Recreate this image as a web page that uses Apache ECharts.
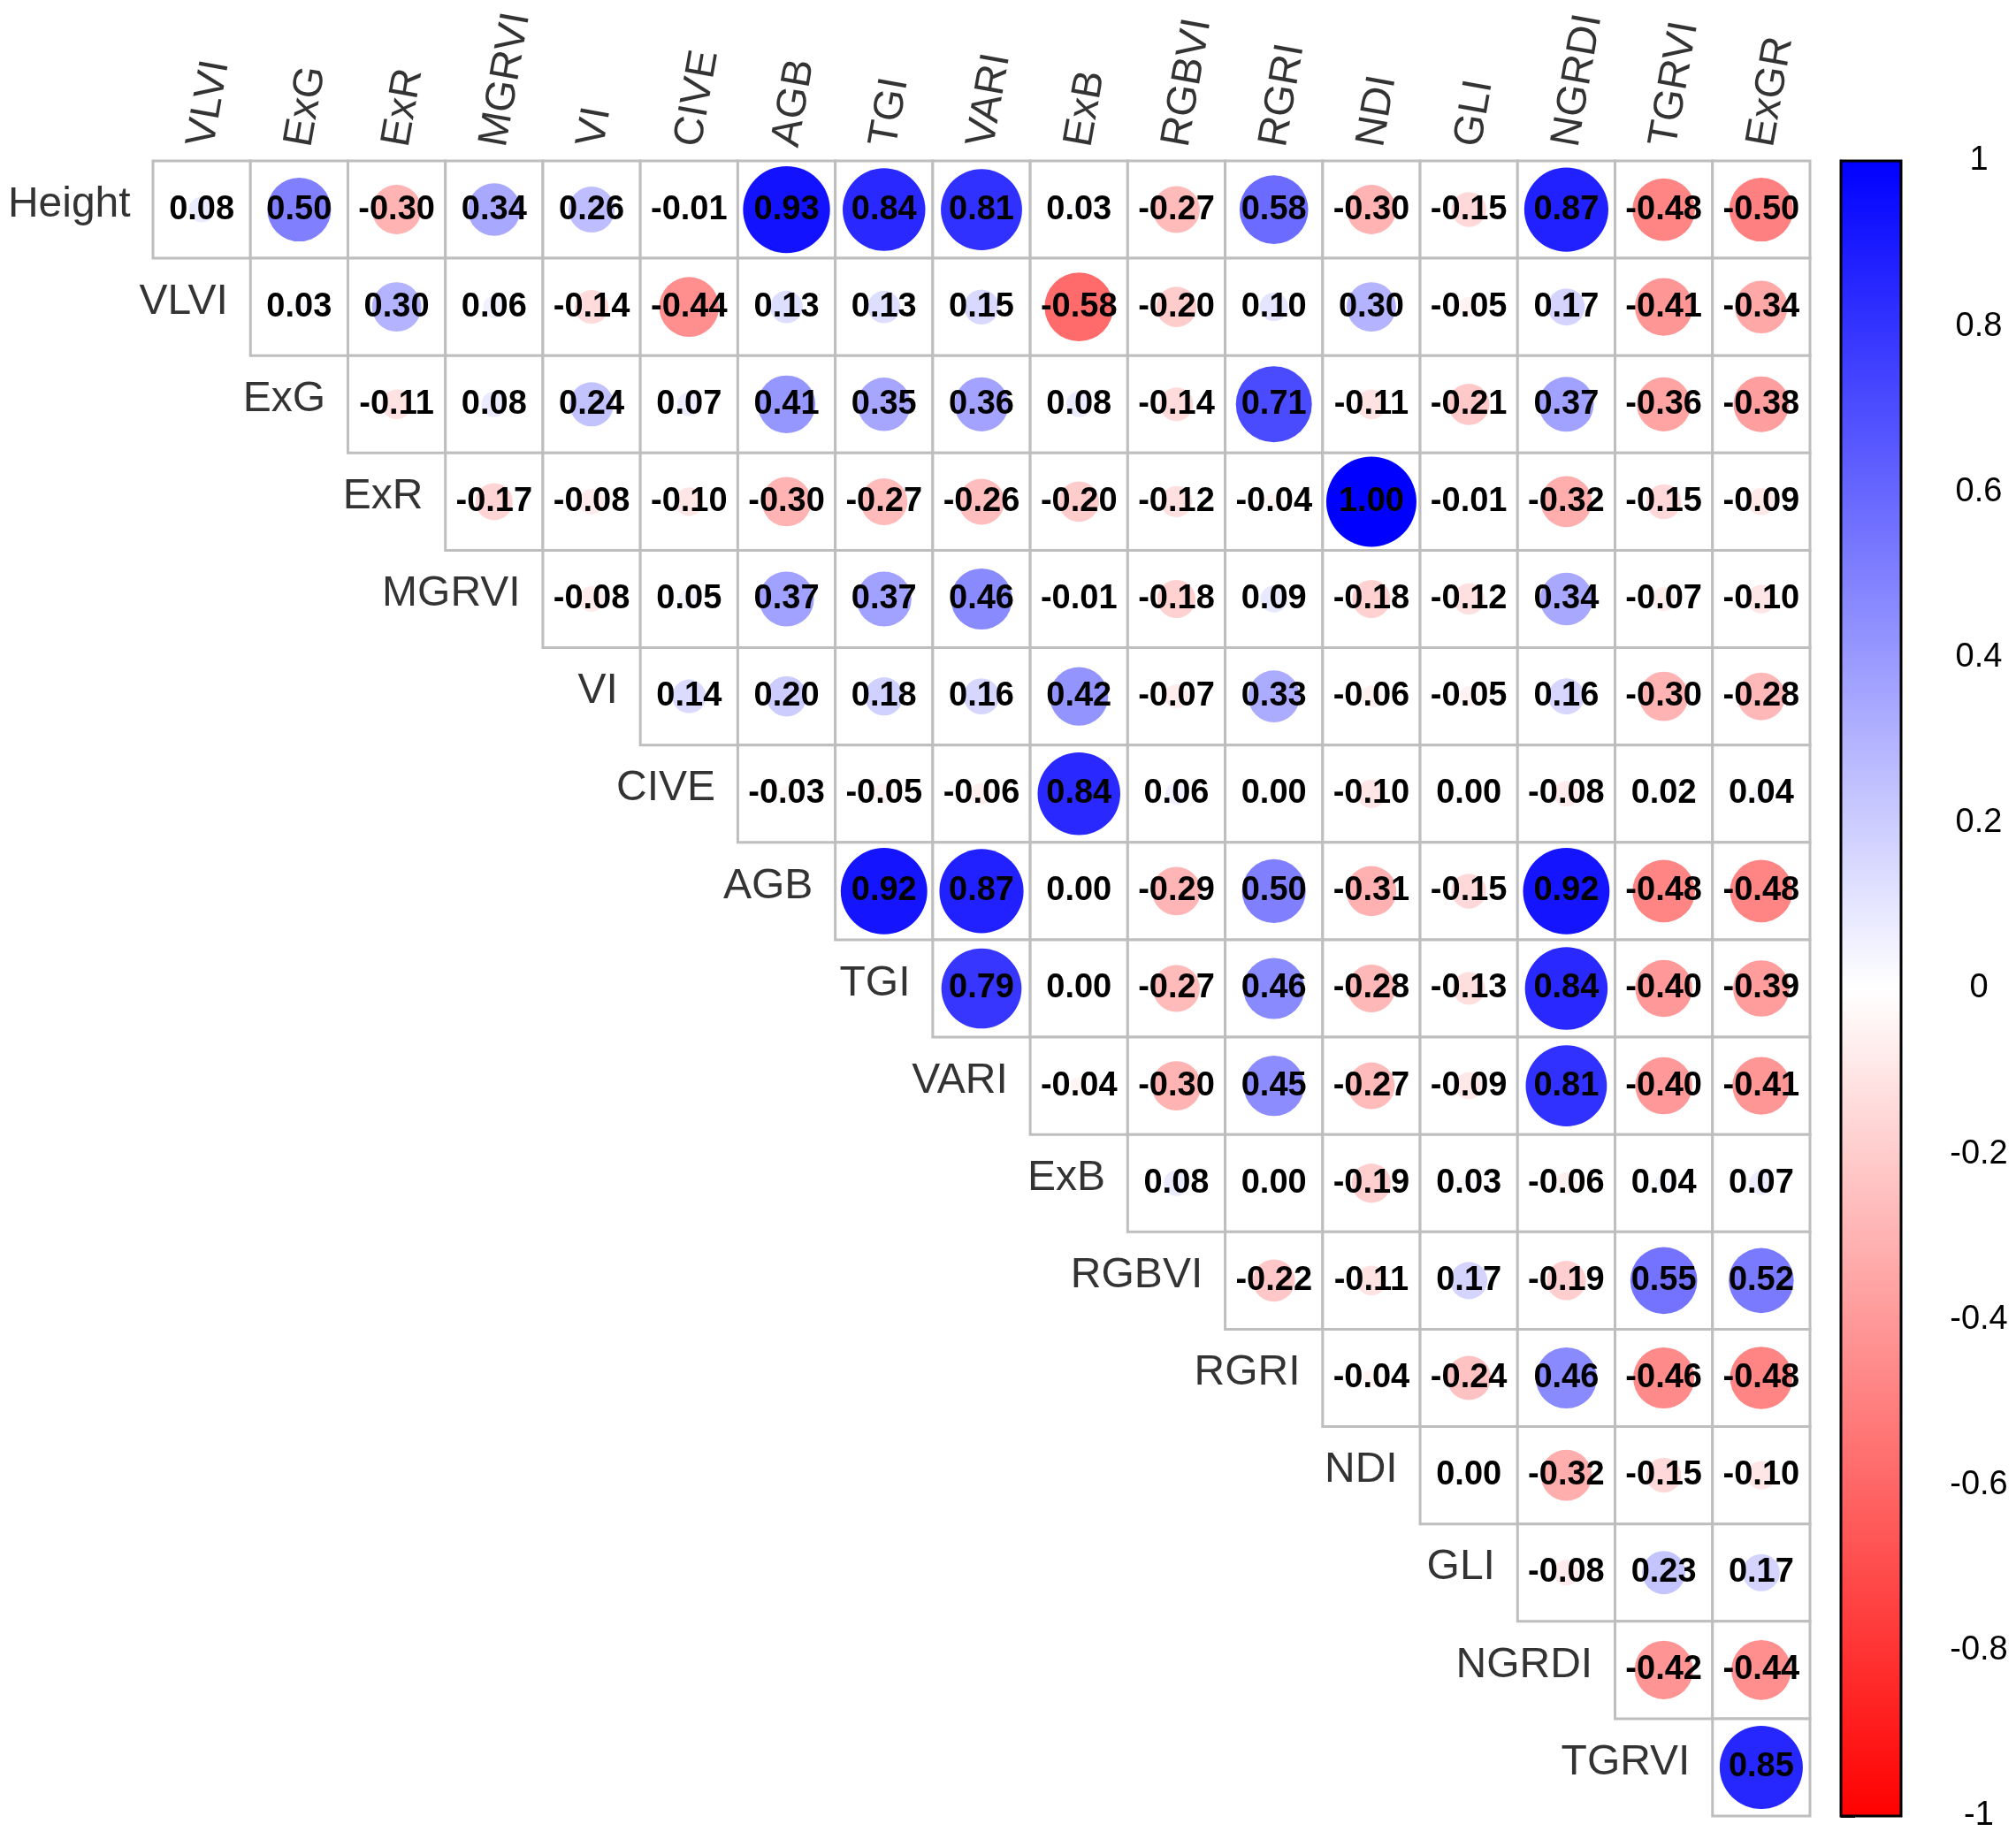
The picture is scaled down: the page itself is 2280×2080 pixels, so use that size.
<!DOCTYPE html>
<html><head><meta charset="utf-8">
<script src="https://cdn.jsdelivr.net/npm/echarts@6/dist/echarts.min.js"></script>
<style>html,body{margin:0;padding:0;background:#fff}#c{width:2280px;height:2080px}</style>
</head><body><div id="c"></div>
<script>
const rowNames = ['Height','VLVI','ExG','ExR','MGRVI','VI','CIVE','AGB','TGI','VARI','ExB','RGBVI','RGRI','NDI','GLI','NGRDI','TGRVI'];
const colNames = ['VLVI','ExG','ExR','MGRVI','VI','CIVE','AGB','TGI','VARI','ExB','RGBVI','RGRI','NDI','GLI','NGRDI','TGRVI','ExGR'];

const rHeight = [0.08, 0.50, -0.30, 0.34, 0.26, -0.01, 0.93, 0.84, 0.81, 0.03, -0.27, 0.58, -0.30, -0.15, 0.87, -0.48, -0.50];
const rVLVI   = [0.03, 0.30, 0.06, -0.14, -0.44, 0.13, 0.13, 0.15, -0.58, -0.20, 0.10, 0.30, -0.05, 0.17, -0.41, -0.34];
const rExG    = [-0.11, 0.08, 0.24, 0.07, 0.41, 0.35, 0.36, 0.08, -0.14, 0.71, -0.11, -0.21, 0.37, -0.36, -0.38];
const rExR    = [-0.17, -0.08, -0.10, -0.30, -0.27, -0.26, -0.20, -0.12, -0.04, 1.00, -0.01, -0.32, -0.15, -0.09];
const rMGRVI  = [-0.08, 0.05, 0.37, 0.37, 0.46, -0.01, -0.18, 0.09, -0.18, -0.12, 0.34, -0.07, -0.10];
const rVI     = [0.14, 0.20, 0.18, 0.16, 0.42, -0.07, 0.33, -0.06, -0.05, 0.16, -0.30, -0.28];
const rCIVE   = [-0.03, -0.05, -0.06, 0.84, 0.06, 0.00, -0.10, 0.00, -0.08, 0.02, 0.04];
const rAGB    = [0.92, 0.87, 0.00, -0.29, 0.50, -0.31, -0.15, 0.92, -0.48, -0.48];
const rTGI    = [0.79, 0.00, -0.27, 0.46, -0.28, -0.13, 0.84, -0.40, -0.39];
const rVARI   = [-0.04, -0.30, 0.45, -0.27, -0.09, 0.81, -0.40, -0.41];
const rExB    = [0.08, 0.00, -0.19, 0.03, -0.06, 0.04, 0.07];
const rRGBVI  = [-0.22, -0.11, 0.17, -0.19, 0.55, 0.52];
const rRGRI   = [-0.04, -0.24, 0.46, -0.46, -0.48];
const rNDI    = [0.00, -0.32, -0.15, -0.10];
const rGLI    = [-0.08, 0.23, 0.17];
const rNGRDI  = [-0.42, -0.44];
const rTGRVI  = [0.85];

const corrRows = [rHeight, rVLVI, rExG, rExR, rMGRVI, rVI, rCIVE, rAGB, rTGI, rVARI, rExB, rRGBVI, rRGRI, rNDI, rGLI, rNGRDI, rTGRVI];
const colorStops = ['#FF0000', '#FFFFFF', '#0000FF'];
const barMin = -1, barMax = 1, barStep = 0.2;

const FONT = '"Liberation Sans", Arial, Helvetica, sans-serif';
const N = colNames.length;
const cells = [], points = [];
corrRows.forEach((vals, i) => vals.forEach((v, k) => {
  const j = i + k;
  cells.push([j, i]);
  points.push([j + 0.5, i + 0.5, v]);
}));
const rowLabelData = rowNames.map((n, i) => [i - 0.23, i + 0.45, n]);
const colLabelData = colNames.map((n, j) => [j + 0.5, -0.15, n]);

const chart = echarts.init(document.getElementById('c'));
chart.setOption({
  backgroundColor: '#fff',
  animation: false,
  grid: [
    {left: 173, top: 182, width: 1874, height: 1872},
    {left: 2082, top: 182, width: 68, height: 1872}
  ],
  xAxis: [
    {type: 'value', gridIndex: 0, min: 0, max: N, show: false},
    {type: 'value', gridIndex: 1, min: 0, max: 1, show: false}
  ],
  yAxis: [
    {type: 'value', gridIndex: 0, min: 0, max: N, inverse: true, show: false},
    {type: 'value', gridIndex: 1, min: barMin, max: barMax, interval: barStep, position: 'right',
      axisLine: {show: true, lineStyle: {color: '#000', width: 3}},
      axisTick: {show: true, length: 16, lineStyle: {color: '#000', width: 3}},
      splitLine: {show: false},
      axisLabel: {margin: 88, align: 'center', fontSize: 38, color: '#000', fontFamily: FONT,
        formatter: v => String(+v.toFixed(1))}}
  ],
  visualMap: {show: false, type: 'continuous', min: -1, max: 1, dimension: 2, seriesIndex: 1,
    inRange: {color: colorStops}},
  series: [
    {
      type: 'custom', xAxisIndex: 0, yAxisIndex: 0, silent: true, clip: false,
      data: cells,
      renderItem: (params, api) => {
        const p0 = api.coord([api.value(0), api.value(1)]);
        const p1 = api.coord([api.value(0) + 1, api.value(1) + 1]);
        return {type: 'rect', shape: {x: p0[0], y: p0[1], width: p1[0] - p0[0], height: p1[1] - p0[1]},
          style: {fill: '#fff', stroke: '#bebebe', lineWidth: 3}};
      }
    },
    {
      type: 'scatter', xAxisIndex: 0, yAxisIndex: 0, silent: true, clip: false,
      data: points,
      symbol: 'circle',
      symbolSize: d => Math.max(102 * Math.sqrt(Math.abs(d[2])), 0.01),
      itemStyle: {opacity: 1},
      label: {show: true, position: 'inside', formatter: p => p.value[2].toFixed(2),
        fontWeight: 'bold', fontSize: 38, color: '#000', fontFamily: FONT},
      emphasis: {disabled: true}
    },
    {
      type: 'scatter', xAxisIndex: 0, yAxisIndex: 0, silent: true, clip: false,
      data: rowLabelData, symbolSize: 0, itemStyle: {color: 'rgba(0,0,0,0)'},
      label: {show: true, position: 'inside', formatter: p => p.value[2], align: 'right', verticalAlign: 'middle',
        fontSize: 48, color: '#000', fontFamily: FONT}
    },
    {
      type: 'scatter', xAxisIndex: 0, yAxisIndex: 0, silent: true, clip: false,
      data: colLabelData, symbolSize: 0, itemStyle: {color: 'rgba(0,0,0,0)'},
      label: {show: true, position: 'inside', formatter: p => p.value[2], align: 'left', verticalAlign: 'middle',
        rotate: 80, fontSize: 47, color: '#000', fontFamily: FONT}
    },
    {
      type: 'custom', xAxisIndex: 1, yAxisIndex: 1, silent: true, clip: false,
      data: [[0, barMin, 1, barMax]],
      renderItem: (params, api) => {
        const p0 = api.coord([api.value(0), api.value(3)]);
        const p1 = api.coord([api.value(2), api.value(1)]);
        return {type: 'rect', shape: {x: p0[0], y: p0[1], width: p1[0] - p0[0], height: p1[1] - p0[1]},
          style: {fill: new echarts.graphic.LinearGradient(0, 0, 0, 1, [
            {offset: 0, color: colorStops[2]}, {offset: 0.5, color: colorStops[1]}, {offset: 1, color: colorStops[0]}]),
            stroke: '#000', lineWidth: 3}};
      }
    }
  ]
});
</script></body></html>
